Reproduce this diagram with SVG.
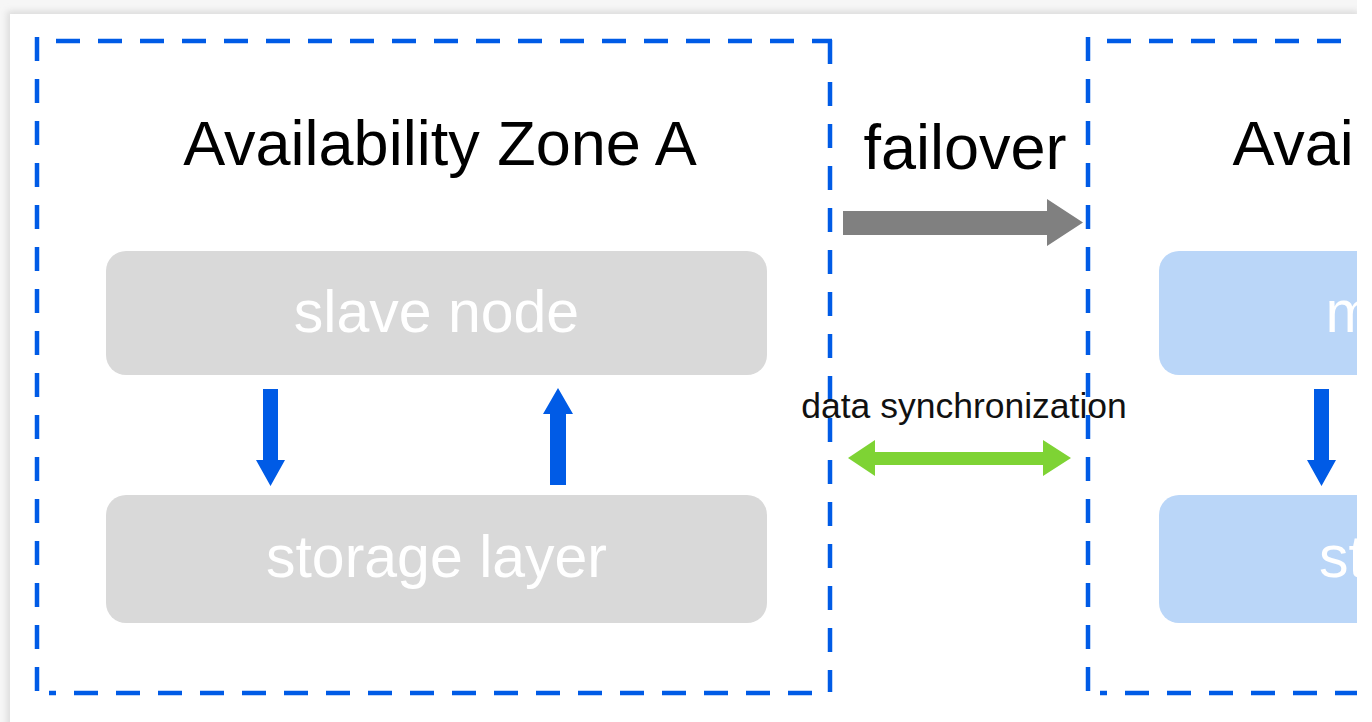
<svg xmlns="http://www.w3.org/2000/svg" width="1372" height="722" viewBox="0 0 1372 722">
  <defs>
    <style>
      .zone { fill: none; stroke: #005be6; stroke-width: 4.5; stroke-dasharray: 24 18; }
      .title { font-family: "Liberation Sans", Arial, sans-serif; font-size: 63px; fill: #000; text-anchor: middle; }
      .nodeText { font-family: "Liberation Sans", Arial, sans-serif; font-size: 59px; fill: #ffffff; text-anchor: middle; }
      .label { font-family: "Liberation Sans", Arial, sans-serif; font-size: 35.5px; fill: #111; text-anchor: middle; }
      .grayNode { fill: #d9d9d9; }
      .blueNode { fill: #bad6f8; }
      .blueArrow { fill: #005be6; }
    </style>
    <filter id="shadow" x="-5%" y="-5%" width="110%" height="110%">
      <feGaussianBlur stdDeviation="3"/>
    </filter>
    <clipPath id="clipCard">
      <rect x="10" y="14" width="1347" height="708"/>
    </clipPath>
  </defs>

  <!-- page background and card -->
  <rect x="0" y="0" width="1372" height="722" fill="#ffffff"/>
  <rect x="0" y="0" width="1357" height="722" fill="#f6f6f6"/>
  <rect x="7" y="11" width="1352" height="720" fill="#dcdcdc" filter="url(#shadow)"/>
  <rect x="1357" y="0" width="15" height="722" fill="#ffffff"/>
  <rect x="10" y="14" width="1347" height="708" fill="#ffffff"/>

  <g clip-path="url(#clipCard)">
    <!-- Zone A -->
    <g id="zoneA">
      <line class="zone" x1="56" y1="41" x2="832" y2="41"/>
      <line class="zone" x1="37" y1="37" x2="37" y2="695"/>
      <line class="zone" x1="830" y1="40" x2="830" y2="692"/>
      <line class="zone" x1="49" y1="693" x2="830" y2="693" stroke-dashoffset="17"/>
      <text class="title" x="440" y="165">Availability Zone A</text>
    </g>
    <g id="slaveNode">
      <rect class="grayNode" x="106" y="251" width="661" height="124" rx="20"/>
      <text class="nodeText" x="436.5" y="332">slave node</text>
    </g>
    <g id="storageA">
      <rect class="grayNode" x="106" y="495" width="661" height="128" rx="20"/>
      <text class="nodeText" x="436.5" y="577">storage layer</text>
    </g>

    <!-- Zone B -->
    <g id="zoneB">
      <line class="zone" x1="1107" y1="41" x2="1883" y2="41"/>
      <line class="zone" x1="1088" y1="37" x2="1088" y2="695"/>
      <line class="zone" x1="1100" y1="693" x2="1881" y2="693" stroke-dashoffset="17"/>
      <text class="title" x="1491" y="165">Availability Zone B</text>
    </g>
    <g id="masterNode">
      <rect class="blueNode" x="1159" y="251" width="661" height="124" rx="20"/>
      <text class="nodeText" x="1489.5" y="332">master node</text>
    </g>
    <g id="storageB">
      <rect class="blueNode" x="1159" y="495" width="661" height="128" rx="20"/>
      <text class="nodeText" x="1489.5" y="577">storage layer</text>
    </g>

    <!-- connectors -->
    <g id="connectors">
      <!-- Zone A: slave -> storage -->
      <polygon class="blueArrow" points="263,389 278,389 278,460 285,460 270.5,486 256,460 263,460"/>
      <!-- Zone A: storage -> slave -->
      <polygon class="blueArrow" points="550,485 566,485 566,414 573,414 558,388 543,414 550,414"/>
      <!-- Zone B: master -> storage -->
      <polygon class="blueArrow" points="1314,389 1329,389 1329,460 1336,460 1321.5,486 1307,460 1314,460"/>
      <!-- failover -->
      <polygon fill="#808080" points="843,211 1047,211 1047,199 1083,222.5 1047,246 1047,235 843,235"/>
      <text class="title" x="965" y="169">failover</text>
      <!-- data synchronization -->
      <polygon fill="#7ed334" points="848,458 875,440 875,452 1043,452 1043,440 1071,458 1043,476 1043,465 875,465 875,476"/>
      <text class="label" x="964" y="418">data synchronization</text>
    </g>
  </g>
</svg>
